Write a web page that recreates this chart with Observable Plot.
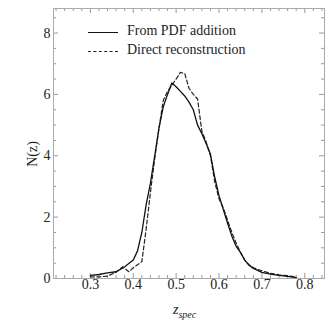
<!DOCTYPE html>
<html><head><meta charset="utf-8">
<script src="https://cdn.jsdelivr.net/npm/d3@7"></script>
<script src="https://cdn.jsdelivr.net/npm/@observablehq/plot@0.6"></script>
<style>
body{margin:0;background:#fff;font-family:"Liberation Serif","Times New Roman",serif;}
#wrap{position:relative;width:332px;height:320px;}
svg text{font-family:"Liberation Serif","Times New Roman",serif;}
.lg{position:absolute;font-size:14px;color:#222;white-space:nowrap;}
.sw{position:absolute;width:30px;height:0;}
#xl{position:absolute;font-size:14px;font-style:italic;left:173px;top:302px;color:#222;}
#xl sub{font-size:10px;}
#yl{position:absolute;font-size:14px;left:20px;top:146px;transform:rotate(-90deg);transform-origin:center;color:#222;}
</style></head>
<body><div id="wrap"></div>
<script>
const zSolid = [0.30,0.32,0.34,0.36,0.38,0.40,0.41,0.42,0.43,0.44,0.45,0.46,0.47,0.48,0.49,0.50,0.51,0.52,0.53,0.54,0.55,0.56,0.57,0.58,0.59,0.60,0.61,0.62,0.63,0.64,0.65,0.66,0.67,0.68,0.70,0.72,0.74,0.76,0.78];
const nSolid = [0.10,0.13,0.18,0.22,0.38,0.60,0.90,1.50,2.40,3.10,4.00,4.90,5.60,6.00,6.37,6.25,6.10,5.95,5.75,5.50,5.00,4.72,4.40,4.05,3.30,2.70,2.25,1.80,1.38,1.05,0.85,0.60,0.43,0.33,0.20,0.14,0.10,0.07,0.03];
const zDash = [0.30,0.32,0.34,0.36,0.375,0.39,0.40,0.42,0.43,0.44,0.45,0.46,0.47,0.48,0.49,0.50,0.51,0.52,0.53,0.54,0.55,0.56,0.57,0.58,0.59,0.60,0.61,0.62,0.63,0.64,0.65,0.66,0.67,0.68,0.70,0.72,0.74,0.76,0.78];
const nDash = [0.05,0.05,0.08,0.20,0.38,0.22,0.35,0.55,1.60,2.80,3.90,4.90,5.80,6.10,6.30,6.50,6.72,6.68,6.20,6.00,5.85,4.80,4.45,4.00,3.15,2.60,2.30,1.90,1.50,1.15,0.85,0.60,0.45,0.35,0.25,0.17,0.12,0.09,0.05];
const xTicks = [0.3,0.4,0.5,0.6,0.7,0.8];
const yTicks = [0,2,4,6,8];
const seriesNames = ["From PDF addition","Direct reconstruction"];

const solid = zSolid.map((z,i)=>({z, n:nSolid[i]}));
const dash = zDash.map((z,i)=>({z, n:nDash[i]}));
const xMinor = d3.range(0.22,0.85,0.02).map(v=>+v.toFixed(2)).filter(v=>Math.abs(v*10-Math.round(v*10))>1e-6);
const yMinor = d3.range(0,8.8,0.5).filter(v=>v%2!==0);
const grey = "#999";
const font = "Liberation Serif";
const W = 332, H = 320, ML = 53, MR = 8, MT = 8, MB = 42;
const FW = W-ML-MR, FH = H-MT-MB;

const plot = Plot.plot({
  width:W, height:H,
  marginLeft:ML, marginRight:MR, marginTop:MT, marginBottom:MB,
  style:{fontFamily:font, fontSize:"14px", color:"#222", background:"#fff"},
  x:{domain:[0.214,0.846], axis:null},
  y:{domain:[0,8.8], axis:null},
  marks:[
    Plot.text(xTicks,{x:d=>d, frameAnchor:"bottom", dy:10, text:d3.format(".1f"), fontSize:14, fontFamily:font, fill:"#222"}),
    Plot.text(yTicks,{y:d=>d, frameAnchor:"left", dx:-3, textAnchor:"end", text:d=>String(d), fontSize:14, fontFamily:font, fill:"#222"}),
    Plot.tickX(xTicks,{x:d=>d, insetTop:FH-5, stroke:grey}),
    Plot.tickX(xMinor,{x:d=>d, insetTop:FH-3, stroke:grey}),
    Plot.tickX(xTicks,{x:d=>d, insetBottom:FH-5, stroke:grey}),
    Plot.tickX(xMinor,{x:d=>d, insetBottom:FH-3, stroke:grey}),
    Plot.tickY(yTicks,{y:d=>d, insetRight:FW-5, stroke:grey}),
    Plot.tickY(yMinor,{y:d=>d, insetRight:FW-3, stroke:grey}),
    Plot.tickY(yTicks,{y:d=>d, insetLeft:FW-5, stroke:grey}),
    Plot.tickY(yMinor,{y:d=>d, insetLeft:FW-3, stroke:grey}),
    Plot.frame({stroke:"#aaa"}),
    Plot.line(dash,{x:"z",y:"n",stroke:"#222",strokeWidth:1.2,strokeDasharray:"4,2.5"}),
    Plot.line(solid,{x:"z",y:"n",stroke:"#111",strokeWidth:1.3})
  ]
});
const wrap = document.getElementById("wrap");
wrap.appendChild(plot);
wrap.insertAdjacentHTML("beforeend",
  `<div class="sw" style="left:88px;top:32px;border-top:1.3px solid #111"></div>
   <div class="lg" style="left:127px;top:23px">${seriesNames[0]}</div>
   <div class="sw" style="left:88px;top:51px;border-top:1.2px dashed #222"></div>
   <div class="lg" style="left:127px;top:42px">${seriesNames[1]}</div>
   <div id="xl">z<sub>spec</sub></div>
   <div id="yl">N(z)</div>`);
</script></body></html>
